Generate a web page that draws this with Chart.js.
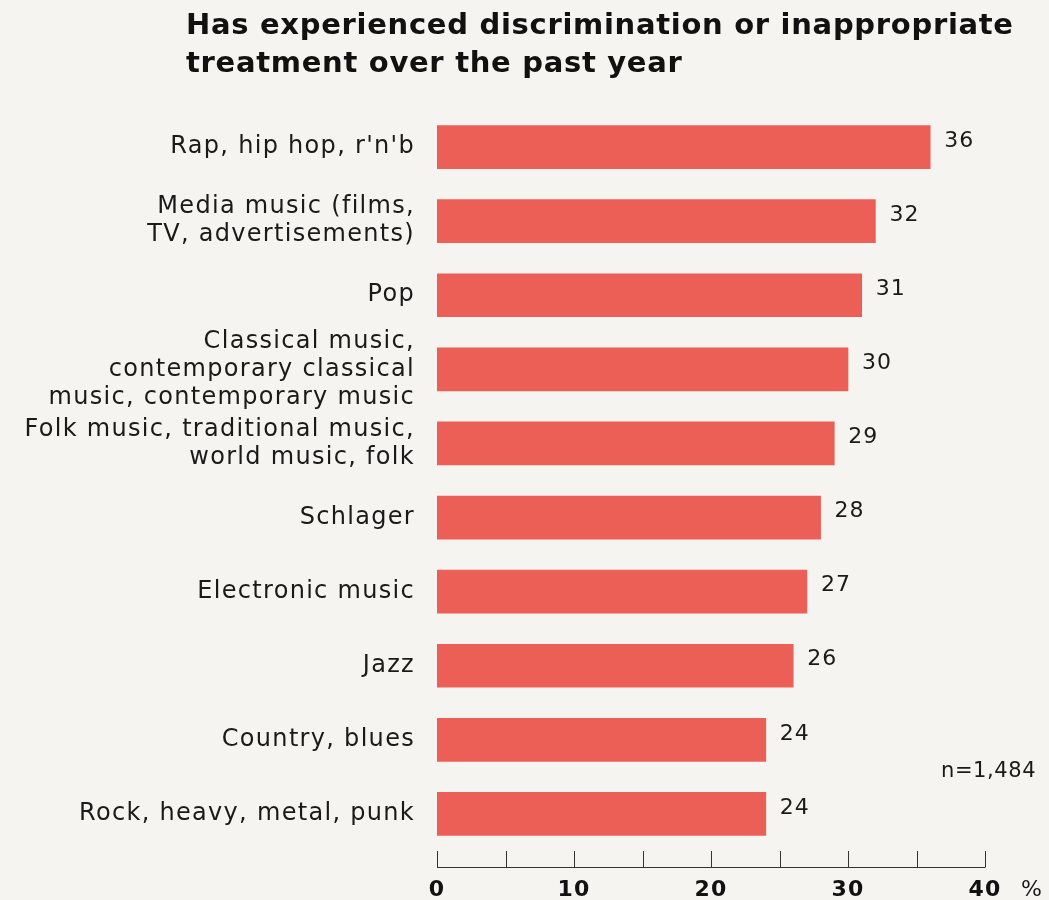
<!DOCTYPE html>
<html>
<head>
<meta charset="utf-8">
<script src="https://cdn.jsdelivr.net/npm/chart.js@4.4.1/dist/chart.umd.min.js"></script>
<style>
  html, body { margin: 0; padding: 0; background: #f5f4f0; }
  #wrap { position: relative; width: 1049px; height: 900px; overflow: hidden; }
  #title { position: absolute; left: 186px; top: 5px; font-family: "DejaVu Sans", sans-serif; font-weight: bold; font-size: 29px; line-height: 38px; letter-spacing: 0.7px; color: #111; white-space: nowrap; }
  #n { position: absolute; left: 941px; top: 758px; font-family: "DejaVu Sans", sans-serif; font-size: 21px; letter-spacing: 0.6px; color: #1a1a1a; }
  #pct { position: absolute; left: 1021px; top: 876px; font-family: "DejaVu Sans", sans-serif; font-size: 22px; color: #1a1a1a; }
  canvas { position: absolute; left: 0; top: 0; }
</style>
</head>
<body>
<div id="wrap">
  <canvas id="c" width="1049" height="900"></canvas>
  <div id="title">Has experienced discrimination or inappropriate<br>treatment over the past year</div>
  <div id="n">n=1,484</div>
  <div id="pct">%</div>
</div>
<script>
const categories = [
  ["Rap, hip hop, r'n'b"],
  ["Media music (films,", "TV, advertisements)"],
  ["Pop"],
  ["Classical music,", "contemporary classical", "music, contemporary music"],
  ["Folk music, traditional music,", "world music, folk"],
  ["Schlager"],
  ["Electronic music"],
  ["Jazz"],
  ["Country, blues"],
  ["Rock, heavy, metal, punk"]
];
const values = [36, 32, 31, 30, 29, 28, 27, 26, 24, 24];
const xTicks = [0, 10, 20, 30, 40];
const xTickMarks = [0, 5, 10, 15, 20, 25, 30, 35, 40];

const BAR = '#eb5f57';
const TEXT = '#1a1a1a';

const spacing = {
  id: 'spacing',
  beforeDraw(chart) { chart.ctx.letterSpacing = '1.3px'; }
};

const valueLabels = {
  id: 'valueLabels',
  afterDatasetsDraw(chart) {
    const ctx = chart.ctx;
    const meta = chart.getDatasetMeta(0);
    ctx.save();
    ctx.letterSpacing = '1px';
    ctx.fillStyle = TEXT;
    ctx.font = '22px "DejaVu Sans", sans-serif';
    ctx.textAlign = 'left';
    ctx.textBaseline = 'middle';
    meta.data.forEach((bar, i) => {
      ctx.fillText(String(values[i]), bar.x + 14, bar.y - 6);
    });
    ctx.restore();
  }
};

const axisLine = {
  id: 'axisLine',
  afterDraw(chart) {
    const ctx = chart.ctx;
    const xs = chart.scales.x;
    const y = chart.chartArea.bottom + 16;
    ctx.save();
    ctx.strokeStyle = '#333';
    ctx.lineWidth = 1;
    ctx.beginPath();
    ctx.moveTo(xs.getPixelForValue(0), y + 0.5);
    ctx.lineTo(xs.getPixelForValue(40), y + 0.5);
    xTickMarks.forEach(v => {
      const px = Math.round(xs.getPixelForValue(v)) + 0.5;
      ctx.moveTo(px, y + 0.5);
      ctx.lineTo(px, y - 16);
    });
    ctx.stroke();
    ctx.restore();
  }
};

new Chart(document.getElementById('c'), {
  type: 'bar',
  data: {
    labels: categories,
    datasets: [{
      data: values,
      backgroundColor: BAR,
      borderWidth: 0,
      barThickness: 43
    }]
  },
  options: {
    indexAxis: 'y',
    responsive: false,
    animation: false,
    devicePixelRatio: 1,
    layout: { padding: { top: 110, right: 64, left: 0, bottom: 0 } },
    plugins: { legend: { display: false }, tooltip: { enabled: false } },
    scales: {
      y: {
        type: 'category',
        grid: { display: false, drawTicks: false },
        border: { display: false },
        ticks: {
          autoSkip: false,
          color: TEXT,
          padding: 22,
          font: { family: '"DejaVu Sans", sans-serif', size: 24, lineHeight: 1.17 }
        },
        afterFit(scale) { scale.width = 437; }
      },
      x: {
        type: 'linear',
        min: 0,
        max: 40,
        grid: { display: false, drawTicks: false },
        border: { display: false },
        afterBuildTicks(scale) { scale.ticks = xTicks.map(v => ({ value: v })); },
        ticks: {
          color: '#111',
          padding: 26,
          font: { family: '"DejaVu Sans", sans-serif', size: 22, weight: 'bold' }
        },
        afterFit(scale) { scale.height = 49; }
      }
    }
  },
  plugins: [spacing, valueLabels, axisLine]
});
</script>
</body>
</html>
